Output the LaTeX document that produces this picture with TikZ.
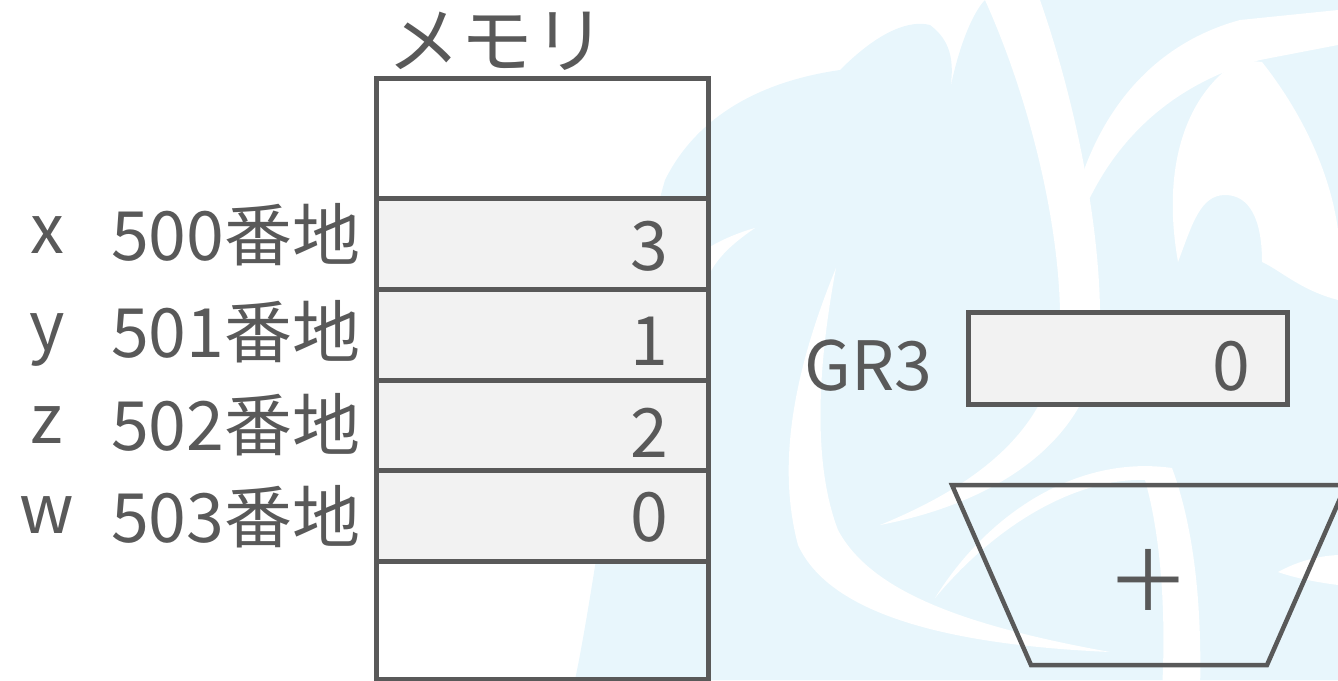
\documentclass[tikz,border=0pt]{standalone}
\usepackage{fontspec}
\setmainfont{Noto Sans CJK JP}
\definecolor{ink}{HTML}{595959}
\definecolor{cellfill}{HTML}{F2F2F2}
\definecolor{wm}{HTML}{E8F6FC}
\tikzset{
  lbl/.style={text=ink, inner sep=0pt, font=\fontsize{68}{74}\selectfont},
  cellbox/.style={draw=ink, line width=4.5pt, fill=cellfill, inner sep=0pt, anchor=north west},
  emptybox/.style={draw=ink, line width=4.5pt, inner sep=0pt, anchor=north west},
  wmcut/.style={fill=white},
}
\begin{document}
\begin{tikzpicture}[x=1pt,y=-1pt]
\useasboundingbox (0,0) rectangle (1338,680);
\clip (0,0) rectangle (1338,680);
% watermark (faint background swirl)
\fill[wm] (575,680) .. controls (600,560) and (630,300) .. (665,180)
  .. controls (700,110) and (770,80) .. (840,70)
  .. controls (880,30) and (910,20) .. (930,25)
  .. controls (950,40) and (955,60) .. (950,90)
  .. controls (960,40) and (975,10) .. (985,0) -- (1338,0) -- (1338,680) -- cycle;
% long stem crescent
\path[wmcut] (985,0) .. controls (1030,100) and (1062,230) .. (1060,330)
  .. controls (1055,420) and (990,480) .. (880,525)
  .. controls (1010,500) and (1098,430) .. (1100,330)
  .. controls (1102,230) and (1075,100) .. (1040,0) -- cycle;
% right branch of the Y
\path[wmcut] (1062,280) .. controls (1070,150) and (1130,50) .. (1240,20)
  -- (1338,10) -- (1338,45) -- (1260,60)
  .. controls (1150,90) and (1085,170) .. cycle;
% white lobe at upper right
\path[wmcut] (1178,262) .. controls (1160,160) and (1190,90) .. (1240,60)
  -- (1262,62) .. controls (1300,110) and (1330,170) .. (1338,230) -- (1338,300)
  .. controls (1300,290) and (1280,270) .. (1262,262)
  .. controls (1262,220) and (1250,195) .. (1225,195)
  .. controls (1200,195) and (1192,225) .. cycle;
% big left crescent
\path[wmcut] (836,268) .. controls (790,380) and (778,470) .. (798,545)
  .. controls (830,615) and (950,645) .. (1110,652)
  .. controls (960,625) and (870,590) .. (838,530)
  .. controls (815,470) and (815,380) .. cycle;
% crescent below the register
\path[wmcut] (935,598) .. controls (1000,520) and (1080,478) .. (1145,480)
  .. controls (1162,540) and (1166,620) .. (1162,690) -- (1200,690)
  .. controls (1202,610) and (1195,530) .. (1172,468)
  .. controls (1080,455) and (990,510) .. cycle;
% small spikes
\path[wmcut] (755,228) .. controls (730,245) and (712,262) .. (705,285) -- (705,250) .. controls (720,240) and (740,232) .. cycle;
\path[wmcut] (1278,572) .. controls (1300,560) and (1320,556) .. (1338,555) -- (1338,585) .. controls (1315,582) and (1295,578) .. cycle;
% memory column
\node[emptybox, minimum width=332pt, minimum height=120pt] (m0) at (374,76) {};
\node[cellbox, minimum width=332pt, minimum height=91pt] (m1) at (374,196) {};
\node[cellbox, minimum width=332pt, minimum height=91pt] (m2) at (374,287) {};
\node[cellbox, minimum width=332pt, minimum height=90pt] (m3) at (374,378) {};
\node[cellbox, minimum width=332pt, minimum height=91pt] (m4) at (374,468) {};
\node[emptybox, minimum width=332pt, minimum height=118pt] (m5) at (374,559) {};
\node[lbl, anchor=base, font=\fontsize{73}{78}\selectfont] (title) at (497,67) {メモリ};
% values in memory
\node[lbl, anchor=base east] (v1) at (668,270) {3};
\node[lbl, anchor=base east] (v2) at (668,365) {1};
\node[lbl, anchor=base east] (v3) at (668,457) {2};
\node[lbl, anchor=base east] (v4) at (668,541) {0};
% addresses
\node[lbl, anchor=base west] (a1) at (111,260) {500番地};
\node[lbl, anchor=base west] (a2) at (111,357) {501番地};
\node[lbl, anchor=base west] (a3) at (111,450) {502番地};
\node[lbl, anchor=base west] (a4) at (111,542) {503番地};
% variable names
\node[lbl, anchor=base] (n1) at (47,253) {x};
\node[lbl, anchor=base] (n2) at (47,350) {y};
\node[lbl, anchor=base] (n3) at (47,443) {z};
\node[lbl, anchor=base] (n4) at (47,533) {w};
% register
\node[lbl, anchor=base west] (gr) at (804,390) {GR3};
\node[cellbox, minimum width=319pt, minimum height=92pt] (reg) at (966,310) {};
\node[lbl, anchor=base east] (rv) at (1250,390) {0};
% adder
\coordinate (t1) at (952,485);
\coordinate (t2) at (1346,485);
\coordinate (t3) at (1267,665);
\coordinate (t4) at (1031,665);
\draw[ink, line width=4.5pt] (t1) -- (t2) -- (t3) -- (t4) -- cycle;
\node[lbl, font=\fontsize{84}{90}\selectfont] (plus) at (1148,580) {＋};
\end{tikzpicture}
\end{document}
